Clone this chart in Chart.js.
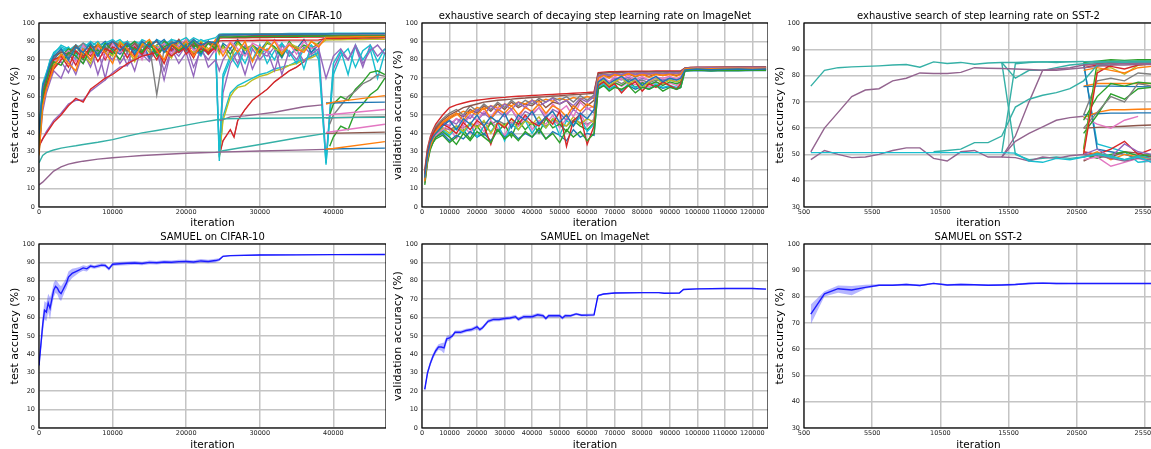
<!DOCTYPE html>
<html>
<head>
<meta charset="utf-8">
<script src="https://cdn.jsdelivr.net/npm/chart.js@4/dist/chart.umd.min.js"></script>
<style>
  body { margin: 0; width: 1151px; height: 449px; overflow: hidden; background: #fff; position: relative; }
  canvas { position: absolute; }
</style>
</head>
<body>
<canvas id="c1" width="386" height="230" style="left:0px;top:0px"></canvas>
<canvas id="c2" width="385" height="230" style="left:383px;top:0px"></canvas>
<canvas id="c3" width="388" height="230" style="left:765px;top:0px"></canvas>
<canvas id="c4" width="386" height="231" style="left:0px;top:221px"></canvas>
<canvas id="c5" width="385" height="231" style="left:383px;top:221px"></canvas>
<canvas id="c6" width="388" height="231" style="left:765px;top:221px"></canvas>
<script>
// ---------- data: CIFAR-10 exhaustive search ----------
const CIFAR_TICKS = [0, 10000, 20000, 30000, 40000];
const CIFAR_X = [0,500,1000,1500,2000,3000,4000,5000,6000,7000,8000,9000,10000,11000,12000,13000,14000,15000,16000,17000,18000,19000,20000,21000,22000,23000,24000,24500,25000,26000,27000,28000,29000,30000,31000,32000,33000,34000,35000,36000,37000,38000,39000,40000,41000,42000,43000,44000,45000,46000,47000];
// noisy runs, one value per CIFAR_X entry
const cifarNoisy = [
  [40,66,71,78,82,86,80,87,84,89,82,88,90,85,89,83,90,87,91,84,89,90,86,91,88,90,89,93.4,93.5,93.6,93.6,93.7,93.7,93.8,93.8,93.8,93.9,93.9,93.9,94,94,94,94,94.1,94.1,94.1,94.1,94.2,94.2,94.2,94.2],
  [28,55,64,70,76,83,78,74,86,80,88,84,78,89,86,81,88,91,85,80,89,86,90,82,88,85,91,86,82,89,84,90,79,87,85,90,83,88,86,84,90,87,92.2,92.3,92.4,92.4,92.5,92.5,92.6,92.6,92.6],
  [32,60,68,75,79,77,84,82,78,86,83,89,85,80,88,86,84,90,82,87,89,85,88,90,84,89,86,92.3,92.4,92.4,92.5,92.5,92.6,92.6,92.6,92.7,92.7,92.7,92.8,92.8,92.8,92.8,92.9,92.9,92.9,92.9,93,93,93,93,93],
  [35,58,66,72,80,82,76,85,81,87,79,86,84,88,81,87,83,89,86,78,88,84,87,81,89,83,87,90.3,90.4,90.4,90.5,90.5,90.5,90.6,90.6,90.6,90.6,90.7,90.7,90.7,90.7,90.8,91.5,91.6,91.6,91.7,91.7,91.8,91.8,91.8,91.9],
  [33,37,40,43,46,50,55,59,57,64,67,70,72,75,78,80,82,83,84,86,82,85,87,83,86,84,87],
  [38,62,70,76,82,84,83,88,82,86,88,84,90,87,85,89,84,88,90,86,87,91,85,89,87,90,88,92.8,92.9,93,93,93,93.1,93.1,93.1,93.2,93.2,93.2,93.2,93.3,93.3,93.3,93.3,93.3,93.4,93.4,93.4,93.4,93.4,93.4,93.4],
  [33,60,69,74,79,81,85,79,88,83,87,81,89,84,86,88,80,90,86,89,83,88,91,85,87,89,84,88,84,90,86,82,89,87,84,91,85,89,83,90,86,88,93,93.1,93.1,93.2,93.2,93.2,93.3,93.3,93.3],
  [36,63,70,77,81,85,82,86,89,84,88,86,90,88,84,89,87,88,61,86,90,87,88,91,86,89,90,93.7,93.8,93.8,93.9,93.9,93.9,94,94,94,94,94,94.1,94.1,94.1,94.1,94.1,94.2,94.2,94.2,94.2,94.3,94.3,94.3,94.3],
  [31,57,67,73,78,83,80,87,83,78,89,85,82,90,86,79,89,84,88,85,81,90,87,84,90,86,88,83,87,80,89,85,88,82,90,86,84,89,87,85,90,88,90.8,90.9,90.9,91,91,91,91.1,91.1,91.1],
  [29,58,65,73,77,82,86,84,80,88,85,87,83,89,87,90,85,88,84,90,88,86,91,87,89,84,90,85,88,83,90,86,88,84,89,87,82,90,85,88,86,89,91.8,91.9,92,92,92.1,92.1,92.1,92.2,92.2],
  [42,67,73,79,84,87,85,88,86,90,87,89,91,88,90,86,91,89,90,88,91,90,89,92,90,91,92,93.9,94,94,94.1,94.1,94.1,94.2,94.2,94.2,94.2,94.3,94.3,94.3,94.3,94.3,94.3,94.4,94.4,94.4,94.4,94.4,94.4,94.4,94.4],
  [31,59,67,71,75,80,84,77,86,82,89,80,87,85,90,82,88,86,80,89,85,91,83,88,86,90,85,91.8,91.9,92,92,92,92.1,92.1,92.1,92.2,92.2,92.2,92.2,92.3,92.3,92.3,92.3,92.3,92.4,92.4,92.4,92.4,92.4,92.4,92.4],
  [36,61,70,76,80,85,81,88,84,80,87,90,86,83,89,85,90,81,88,91,86,84,89,87,83,90,88,84,89,86,91,83,88,85,90,87,81,89,86,91,84,89,92.7,92.8,92.8,92.9,92.9,93,93,93,93],
  [33,37,41,44,47,51,56,58,58,63,66,69,73,76,77,81,83,82,85,85,83,86,86,84,87,85,88],
  [37,63,72,80,83,88,86,83,89,87,90,85,89,91,87,90,88,86,91,89,87,90,92,88,91,89,90,93.6,93.7,93.7,93.8,93.8,93.8,93.9,93.9,93.9,93.9,94,94,94,94,94,94,94.1,94.1,94.1,94.1,94.1,94.1,94.1,94.1],
  [30,52,62,68,74,70,80,72,84,76,86,70,87,78,84,74,88,80,85,69,86,78,84,71,88,76,80,74,80,86,78,88,75,84,82,87,72,85,80,87,83,86,70,82,86,80,88,78,85,88,83],
  [39,65,71,77,81,84,87,82,85,89,84,87,83,90,88,84,89,86,83,90,87,89,84,90,87,83,89,28,70,80,85,78,88,83,86,80,89,84,78,86,88,80,24,72,82,86,76,85,88,79,86],
  [40,64,69,76,80,86,84,80,88,85,82,89,86,90,84,88,82,89,87,85,91,84,89,86,82,90,87,25,72,82,76,86,80,88,78,85,89,82,87,75,88,84,23,78,85,72,88,80,86,70,84],
  [34,56,65,70,76,79,73,82,78,86,72,84,80,86,77,88,83,79,87,74,86,82,88,76,85,80,86,30,62,78,84,72,86,80,85,74,88,82,86,79,84,88,26,75,84,80,87,76,88,82,86]
];
// slow runs with their own iteration points
const cifarTealX = [0,500,1000,1500,2000,3000,4000,5000,6000,8000,10000,12000,14000,16000,18000,20000,22000,24000,24500,25000,30000,35000,39000,40000,47000];
const cifarTealY = [24,28,29.5,30.3,31,32,32.7,33.3,34,35.2,36.6,38.5,40.3,41.6,43,44.5,46,47.3,47.6,48,48.2,48.4,48.5,48.6,48.8];
const cifarLowX = [0,500,1000,1500,2000,3000,4000,5000,6000,8000,10000,12000,14000,16000,18000,20000,22000,24000,24500,30000,35000,39000];
const cifarLowY = [12,13.5,15.5,17.5,19.5,21.8,23.3,24.2,24.9,26,26.8,27.4,28,28.4,28.8,29.2,29.5,29.7,29.8,30.4,30.9,31.3];
const cifarRestartX = [24500,25000,26000,26500,27000,28000,29000,30000,31000,32000,33000,34000,35000,36000,37000,38000];
const cifarRestartA = [27,49,62,64,66,68,70,72,73,75,76,77,79,80,82,84];
const cifarRestartB = [28,36,42,38,47,53,58,61,64,68,71,74,76,79,82,84];
const cifarRestartC = [27,47,60,63,65,66,69,71,72,74,75,77,78,80,81,83];
const cifarMidX = [24500,25000,26000,28000,30000,32000,34000,36000,38500];
const cifarMidY = [47,47.5,49,49.5,50.5,51.5,53,54.5,55.5];
const cifarRiseX = [24500,25000,30000,35000,39000];
const cifarRiseY = [30,30.6,34,37.5,40];
const cifarLateX = [39500,40000,41000,42000,43000,44000,45000,46000,47000];
const cifarLateGreenA = [33,38,44,42,52,56,61,64,70];
const cifarLateGreenB = [50,56,60,58,64,68,73,74,72];
const cifarLateGray = [45,50,55,60,63,67,69,72,71];
const cifarFlatX = [39000,47000];
const cifarFlatRuns = [[56.5,57],[50,53],[48.5,49],[40.5,45],[40,40.7],[31.5,32]];
const cifarOrangeX = [39000,40000,47000];
const cifarOrangeHi = [56,57,60.5];
const cifarOrangeLo = [31.5,31.8,35.5];

// ---------- data: ImageNet exhaustive search ----------
const IMNET_TICKS = [0,10000,20000,30000,40000,50000,60000,70000,80000,90000,100000,110000,120000];
const IMNET_X = [1000,2000,3000,4000,5000,7500,10000,12500,15000,17500,20000,22500,25000,27500,30000,32500,35000,37500,40000,42500,45000,47500,50000,52500,55000,57500,60000,62500,64000,66000,68000,70000,72500,75000,77500,80000,82500,85000,87500,90000,92500,94000,95500,97500,100000,105000,110000,115000,120000,125000];
const imnetRuns = [
  [16,28,35,38,40,44,47,42,48,45,50,44,49,46,51,43,50,47,52,45,49,52,46,50,44,51,48,53, 68,70,67,69,71,68,70,66,69,71,68,70,69,70, 74.5,74.8,75,74.6,74.9,75,74.7,75],
  [14,26,33,37,41,46,49,51,47,52,50,54,48,53,51,55,50,54,52,56,51,55,53,49,55,52,56,54, 70,71.5,70,72,71,72.5,71,72,70.5,72,71.5,72,71,72, 75,75.3,75.4,75.2,75.5,75.4,75.5,75.5],
  [12,24,31,35,38,41,38,34,40,36,41,38,35,42,37,40,36,41,38,43,37,40,35,42,38,41,36,40, 64,66,63,65,64,66,62,65,64,66,63,65,64,65, 74,74.2,74.4,74,74.3,74.2,74.4,74.3],
  [18,30,36,40,42,45,43,40,46,42,47,44,34,46,43,48,45,50,46,44,49,45,52,33,47,50,34,44, 66,68,65,67,62,66,68,63,67,65,68,66,64,67, 74.2,74.5,74.6,74.4,74.7,74.5,74.6,74.7],
  [15,27,34,38,41,44,47,45,50,48,53,50,55,52,56,53,57,54,58,55,57,59,56,58,55,59,57,60, 71,72,71.5,72.5,72,73,72,72.8,72.3,73,72.5,73,72.7,73, 75.3,75.6,75.8,75.7,75.9,75.8,76,75.9],
  [17,29,35,39,43,47,50,52,54,55,56,57,57.5,58,58.3,58.6,59,59.2,59.5,59.8,60,60.3,60.5,60.8,61,61.2,61.5,61.8, 72.5,72.8,73,73.1,73.2,73.3,73.3,73.4,73.4,73.5,73.5,73.5,73.6,73.6, 75.6,75.8,75.9,76,76,76.1,76.1,76.1],
  [13,25,32,36,39,42,45,48,44,50,47,52,49,54,50,53,48,55,51,54,50,56,52,55,49,57,53,55, 69,70.5,68,71,69.5,71.5,69,71,68.5,70.5,70,71,69.5,71, 74.8,75,75.2,75,75.3,75.1,75.3,75.2],
  [19,31,37,41,44,48,51,53,50,55,52,56,53,57,54,58,55,58,56,59,57,59.5,58,60,57,60.5,58,61, 71.5,72.3,71.8,72.6,72.2,72.8,72.3,72.9,72.5,73,72.7,73.1,72.8,73.1, 75.4,75.7,75.8,75.6,75.9,75.8,75.9,76],
  [14,26,33,37,40,43,40,44,41,46,43,47,40,46,44,48,42,47,45,49,43,48,46,44,49,45,48,46, 67,69,66,68,70,67,69,65,68,70,67,69,68,69, 74.4,74.6,74.8,74.5,74.8,74.6,74.8,74.8],
  [16,28,34,37,40,42,39,43,40,45,38,44,41,46,36,45,42,47,40,46,43,48,39,47,44,49,41,45, 65,67,64,66,63,67,65,66,64,67,65,66,65,66, 74.1,74.3,74.5,74.2,74.5,74.3,74.5,74.4],
  [15,27,33,36,38,40,36,39,37,41,38,40,36,42,38,41,37,40,38,42,37,41,39,36,42,38,40,39, 64.5,66,64,65.5,63.5,66,64,65.5,64,66,64.5,65.5,64,65, 73.8,74,74.2,73.9,74.2,74,74.2,74.1],
  [17,29,35,39,42,46,48,50,52,51,54,53,55,54,56,55,57,56,58,57,58.5,57.5,59,58,59.5,58.5,60,59, 71,71.8,71.3,72,71.6,72.2,71.8,72.3,72,72.5,72.2,72.6,72.3,72.6, 75.2,75.5,75.6,75.5,75.7,75.6,75.7,75.7],
  [13,25,32,35,37,39,35,38,42,37,44,39,46,41,45,38,47,42,46,40,48,43,45,41,47,44,42,46, 66,68,65.5,67.5,66,68.5,65,67.5,66.5,68,66,68,67,68, 74.3,74.5,74.6,74.4,74.7,74.5,74.7,74.6],
  [20,32,38,42,45,50,54,55.5,56.5,57.5,58,58.5,59,59.3,59.6,60,60.2,60.4,60.6,60.8,61,61.2,61.4,61.6,61.8,62,62.2,62.5, 73,73.3,73.5,73.6,73.7,73.7,73.8,73.8,73.8,73.9,73.9,73.9,74,74, 75.5,75.8,76,76,76.1,76.1,76.2,76.2],
  [16,29,36,39,43,46,44,48,46,50,47,51,48,52,49,53,47,52,50,54,48,53,51,47,53,50,54,51, 69,70,68,70,69,70.5,68,70,69,70.5,69,70,69,70, 74.7,74.9,75.1,74.9,75.1,75,75.1,75.1],
  [14,27,34,38,42,45,48,51,49,53,51,55,52,56,53,57,54,56,55,58,54,57,56,58,53,58,55,58, 70.5,71.5,70.8,72,71.2,72.2,70.8,72,71,72.3,71.5,72.3,71.5,72.2, 75.1,75.4,75.5,75.3,75.6,75.5,75.6,75.6],
  [17,29,34,36,39,41,43,37,44,40,46,41,47,43,39,46,44,49,42,47,45,50,43,48,46,51,44,48, 66.5,68.5,66,68,65.5,68,66.5,68,65,68,66.5,67.5,66,67.5, 74.2,74.4,74.6,74.3,74.6,74.4,74.6,74.5],
  [18,30,36,40,41,43,42,44,43,45,44,46,45,47,45,46,44,47,45,46,44,47,45,44,47,46,45,47, 68,69,67.5,69,67,69.5,68,69,67.5,69,68.5,69,68,69, 74.6,74.8,75,74.8,75,74.9,75,75]
];

// ---------- data: SST-2 exhaustive search ----------
const SST_TICKS = [500, 5500, 10500, 15500, 20500, 25500];
const SST_X = [1000,2000,3000,4000,5000,6000,7000,8000,9000,10000,11000,12000,13000,14000,15000,16000,17000,18000,19000,20000,21000,22000,23000,24000,25000,26000];
const sstTop = [76,82,83,83.3,83.5,83.7,84,84.2,83.2,85.2,84.6,85,84.3,84.8,85,85,85.2,85.2,85.3,85.2,85.3,85.4,85.4,85.5,85.5,85.5];
const sstClimb = [51,60,66,72,74.5,75,78,79,81,80.8,80.8,81.2,83,82.8,82.7,82.5,82.3,82,82.5,83,84,84.3,84.5,84.5,84.6,84.6];
const sstFlat = [50.7,50.7,50.7,50.7,50.7,50.7,50.7,50.7,50.7,50.7,50.7,50.7,50.7,50.7,50.7,50.5,47.5,47,48.5,48,49,50,49,48,49,47];
const sstLow = [48,51.5,50,48.8,49,50,51.5,52.5,52.5,48.5,47.5,51,51.5,49,49,48.8,47.5,49,48.5,49.5,50,49.5,48.5,47.5,48.5,48];
const sstTealRise = [null,null,null,null,null,null,null,null,null,51,51.5,52,54.5,54.5,57,68,71,72.5,73.5,75,78,84,84.5,85,85,85];
const sstPurpleSteep = [null,null,null,null,null,null,null,null,null,null,null,null,null,null,49,57,70,82,82,82.5,83,83.5,84,84,84.2,84.2];
const sstPurpleSlow = [null,null,null,null,null,null,null,null,null,null,null,null,null,null,49,55,58,60.5,63,64,64.5];
const sstTealDrop = [null,null,null,null,null,null,null,null,null,null,null,null,null,null,85,50,48,48.5,49,48.5,49,50.5,49.5,48,49.5,48.5];
const sstTealDip = [null,null,null,null,null,null,null,null,null,null,null,null,null,null,85,79,82,82,83,84,84.5,85,85.2,85,85.3,85.3];
const sstTealJump = [null,null,null,null,null,null,null,null,null,null,null,null,null,null,50.5,84.5,85,85.2,85,85.3,85.4];
const SST_TAIL_X = [21000,22000,23000,24000,25000,26000];
const sstTailRuns = [
  [84,84.5,85,84.8,85,85],
  [83,84,83.5,82.5,84,84.5],
  [85,85.5,86,85.8,86,86],
  [82,83,82,81,83,83.5],
  [50,81,84,85,84.5,85],
  [51,82,83,80.5,84,84.5],
  [52,85,85.5,85,85.5,85.5],
  [60,66,72,70,77,76],
  [65,78,79,78,81,80.5],
  [58,65,73,71,75,75.5],
  [63,72,77,76,77.5,77],
  [64,66,67,67,67.2,67.3],
  [65,65.5,65.7,65.7,65.8,65.8],
  [75.8,76,76,75.9,75.8,75.7],
  [76,77,77,77,77,77],
  [64,61.5,60,63,64.5,null],
  [60,60.3,60.5,60.7,61,61.2],
  [50,52,49,54,51,50],
  [49,51,48,50,49,48.5],
  [48,49,45.5,47,48.5,47],
  [51,50,52,55,50,52],
  [50,48.5,50,51,49.5,50],
  [47.5,50,49,51,50.5,49],
  [85,52,51,50,48.5,49.5],
  [84.5,54,52.5,51,47,47.5]
];

// ---------- data: SAMUEL ----------
const samCifarX = [0,250,500,750,1000,1250,1500,1750,2000,2250,2500,2750,3000,3250,3500,3750,4000,4500,5000,5500,6000,6500,7000,7500,8000,8500,9000,9500,10000,11000,12000,13000,14000,15000,16000,17000,18000,19000,20000,21000,22000,23000,24000,24500,25000,26000,30000,35000,40000,47000];
const samCifarMean = [34,45,56,64,63,68,65,70,75,77,76,74,73,75,77,79,82,84,85,86,87,86.5,88,87.5,88,88.5,88.3,86.5,89,89.3,89.5,89.7,89.4,90,89.8,90.2,90.1,90.4,90.5,90.2,90.8,90.5,91,91.5,93.3,93.7,94,94.1,94.2,94.3];
const samCifarLow = [33,42,51,59,58,63,59,66,71,73.5,72.5,70,69,71.5,74,76,79,81.5,83,84.5,85.5,85,87,86.5,87,87.5,87.3,85.5,88,88.3,88.5,88.7,88.4,89,88.8,89.2,89.1,89.4,89.5,89.2,89.8,89.5,90,90.7,92.8,93.4,93.8,93.9,94,94.1];
const samCifarHigh = [35,48,61,69,68,73,71,74,79,80.5,79.5,78,77,78.5,80,82,85,86.5,87,87.5,88.5,88,89,88.5,89,89.5,89.3,87.5,90,90.3,90.5,90.7,90.4,91,90.8,91.2,91.1,91.4,91.5,91.2,91.8,91.5,92,92.3,93.8,94,94.2,94.3,94.4,94.5];

const samImnetX = [1000,2000,3000,4000,5000,6000,7000,8000,9000,10000,11000,12000,14000,16000,18000,20000,21000,22000,24000,26000,28000,30000,32000,34000,35000,37000,40000,42000,44000,45000,46000,48000,50000,51000,52000,54000,56000,58000,62500,63800,64000,66000,70000,80000,86000,88000,93500,95000,100000,110000,120000,125000];
const samImnetMean = [21,30,35,39,42,44,44,43.5,48.5,49,50,52,52,53,53.5,55,53.5,54.5,58,59,59,59.5,59.8,60.5,59,60.5,60.5,61.5,61,59.5,61,61,61,59.8,61,61,62,61.3,61.5,71,72,72.8,73.4,73.6,73.6,73.2,73.3,75.3,75.6,75.8,75.8,75.5];
const samImnetLow = [19.5,28.5,33.5,37.5,40.5,42.5,42,40.5,47,47.5,49,51,51,52,52.5,53.5,52.5,53.5,57,58,58,58.5,58.8,59.5,58,59.5,59.5,60.5,60,58.5,60,60,60,58.8,60,60.3,61.3,60.6,60.8,70.5,71.6,72.4,73.1,73.3,73.3,72.9,73,75,75.3,75.5,75.5,75.2];
const samImnetHigh = [22.5,31.5,36.5,40.5,43.5,45.5,46,46.5,50,50.5,51,53,53,54,54.5,56,54.5,55.5,59,60,60,60.5,60.8,61.5,60,61.5,61.5,62.5,62,60.5,62,62,62,60.8,62,61.7,62.7,62,62.2,71.5,72.4,73.2,73.7,73.9,73.9,73.5,73.6,75.6,75.9,76.1,76.1,75.8];

const samSstMean = [73.3,81,83,82.5,83.5,84.3,84.3,84.6,84.2,85,84.4,84.6,84.5,84.3,84.4,84.6,85,85.1,85,85,85,85,85,85,85,85];
const samSstLow = [69.5,80,81.5,80.5,83,84,84,84.2,83.9,84.7,84.1,84.3,84.2,84,84.1,84.3,84.7,84.8,84.7,84.8,84.8,84.8,84.8,84.8,84.8,84.8];
const samSstHigh = [77,82,84.2,84,84.5,84.7,84.7,85,84.6,85.3,84.8,85,84.8,84.7,84.8,85,85.4,85.5,85.3,85.2,85.2,85.2,85.2,85.2,85.2,85.2];

// ---------- styling + helpers ----------
const FONT = '"DejaVu Sans", sans-serif';
const TAB10 = ['#1f77b4','#ff7f0e','#2ca02c','#d62728','#9467bd','#8c564b','#e377c2','#7f7f7f','#bcbd22','#17becf'];
const TEAL = '#35b0a6';
const MAUVE = '#93648f';
const GRID = '#c4c4c4';
const RUN_W = 1.4;

function toPoints(xs, ys) {
  const out = [];
  ys.forEach((y, i) => {
    if (y != null && xs[i] != null) out.push({ x: xs[i], y });
  });
  return out;
}

function run(xs, ys, color, width) {
  return {
    data: toPoints(xs, ys),
    borderColor: color,
    borderWidth: width || RUN_W,
    pointRadius: 0,
    fill: false,
    tension: 0
  };
}

// shaded band + mean line, like fill_between
function bandWithLine(xs, lo, hi, mean) {
  return [
    { data: toPoints(xs, lo), borderWidth: 0, pointRadius: 0, fill: false },
    { data: toPoints(xs, hi), borderWidth: 0, pointRadius: 0, fill: '-1', backgroundColor: 'rgba(70,70,255,0.4)' },
    run(xs, mean, '#0000ff', 1.4)
  ];
}

// black box round the plot area
const frame = {
  id: 'frame',
  afterDatasetsDraw(chart) {
    const { ctx, chartArea: a } = chart;
    ctx.save();
    ctx.strokeStyle = '#000';
    ctx.lineWidth = 1.2;
    ctx.strokeRect(a.left, a.top, a.right - a.left, a.bottom - a.top);
    ctx.restore();
  }
};

function makePanel(id, p) {
  new Chart(document.getElementById(id), {
    type: 'line',
    data: { datasets: p.datasets },
    plugins: [frame],
    options: {
      responsive: false,
      animation: false,
      events: [],
      layout: { padding: 0 },
      plugins: {
        legend: { display: false },
        tooltip: { enabled: false },
        title: {
          display: true,
          text: p.title,
          fullSize: false,
          color: '#000',
          font: { family: FONT, size: 10, weight: 'normal', lineHeight: 1.2 },
          padding: { top: 10, bottom: 1 }
        }
      },
      scales: {
        x: {
          type: 'linear',
          min: p.xmin,
          max: p.xmax,
          border: { display: false },
          grid: { color: GRID, lineWidth: 1.5, drawTicks: false },
          ticks: { font: { family: FONT, size: 6.5 }, color: '#222', padding: 1, maxRotation: 0, autoSkip: false, callback: v => String(v) },
          title: { display: true, text: 'iteration', color: '#000', font: { family: FONT, size: 10.5, lineHeight: 1.2 }, padding: { top: 0, bottom: 0 } },
          afterBuildTicks: s => { s.ticks = p.xticks.map(v => ({ value: v })); },
          afterFit: s => { s.height = p.xh; s.paddingLeft = 0; s.paddingRight = 0; }
        },
        y: {
          min: p.ymin,
          max: 100,
          border: { display: false },
          grid: { color: GRID, lineWidth: 1.5, drawTicks: false },
          ticks: { stepSize: 10, font: { family: FONT, size: 6.5 }, color: '#222', padding: 4, callback: v => String(v) },
          title: { display: true, text: p.ylabel, color: '#000', font: { family: FONT, size: 11, lineHeight: 1.2 }, padding: { top: 8.4, bottom: 0 } },
          afterFit: s => { s.width = 39; s.paddingTop = 0; s.paddingBottom = 0; }
        }
      }
    }
  });
}

// ---------- panel 1 ----------
const cifarSets = [
  run(cifarLowX, cifarLowY, MAUVE),
  run(cifarTealX, cifarTealY, TEAL),
  run(cifarRiseX, cifarRiseY, TEAL),
  run(cifarMidX, cifarMidY, MAUVE),
  run(cifarOrangeX, cifarOrangeLo, TAB10[1]),
  run(cifarOrangeX, cifarOrangeHi, TAB10[1])
];
const flatColors = [TAB10[0], TAB10[6], TAB10[5], TAB10[6], TAB10[5], TAB10[0]];
cifarFlatRuns.forEach((ys, i) => cifarSets.push(run(cifarFlatX, ys, flatColors[i])));
cifarSets.push(run(cifarLateX, cifarLateGray, TAB10[7]));
cifarSets.push(run(cifarLateX, cifarLateGreenB, TAB10[2]));
cifarSets.push(run(cifarLateX, cifarLateGreenA, TAB10[2]));
const noisyColors = [TAB10[0], TAB10[1], TAB10[2], TAB10[3], TAB10[3], TAB10[5], TAB10[6], TAB10[7], TAB10[8], TAB10[2], TAB10[9], TAB10[3], TAB10[0], TAB10[4], TAB10[9], TAB10[4], TAB10[9], TAB10[9], TAB10[4]];
cifarNoisy.forEach((ys, i) => cifarSets.push(run(CIFAR_X, ys, noisyColors[i])));
cifarSets.push(run(cifarRestartX, cifarRestartC, TAB10[8]));
cifarSets.push(run(cifarRestartX, cifarRestartA, TAB10[9]));
cifarSets.push(run(cifarRestartX, cifarRestartB, TAB10[3]));
cifarSets.push(run(cifarRestartX, cifarRestartB, MAUVE, 1));

makePanel('c1', {
  title: 'exhaustive search of step learning rate on CIFAR-10',
  ylabel: 'test accuracy (%)',
  xmin: 0, xmax: 47150, ymin: 0, xticks: CIFAR_TICKS, xh: 23,
  datasets: cifarSets
});

// ---------- panel 2 ----------
makePanel('c2', {
  title: 'exhaustive search of decaying step learning rate on ImageNet',
  ylabel: 'validation accuracy (%)',
  xmin: 0, xmax: 125700, ymin: 0, xticks: IMNET_TICKS, xh: 23,
  datasets: imnetRuns.map((ys, i) => run(IMNET_X, ys, TAB10[i % 10]))
});

// ---------- panel 3 ----------
const sstSets = [
  run(SST_X, sstFlat, TAB10[9]),
  run(SST_X, sstLow, MAUVE),
  run(SST_X, sstTop, TEAL),
  run(SST_X, sstClimb, MAUVE),
  run(SST_X, sstTealRise, TEAL),
  run(SST_X, sstPurpleSlow, MAUVE),
  run(SST_X, sstPurpleSteep, MAUVE),
  run(SST_X, sstTealDrop, TEAL),
  run(SST_X, sstTealDip, TEAL),
  run(SST_X, sstTealJump, TEAL)
];
const tailColors = [TAB10[5], TAB10[3], TAB10[2], TAB10[1], TAB10[3], TAB10[8], TAB10[2], TAB10[7], TAB10[7], TAB10[2], TAB10[2], TAB10[1], TAB10[0], TAB10[0], TAB10[1], TAB10[6], TAB10[5], TAB10[4], TAB10[1], TAB10[6], TAB10[3], TAB10[2], TAB10[5], TAB10[0], TAB10[9]];
sstTailRuns.forEach((ys, i) => sstSets.push(run(SST_TAIL_X, ys, tailColors[i])));

makePanel('c3', {
  title: 'exhaustive search of step learning rate on SST-2',
  ylabel: 'test accuracy (%)',
  xmin: 500, xmax: 26090, ymin: 30, xticks: SST_TICKS, xh: 23,
  datasets: sstSets
});

// ---------- bottom row ----------
makePanel('c4', {
  title: 'SAMUEL on CIFAR-10',
  ylabel: 'test accuracy (%)',
  xmin: 0, xmax: 47150, ymin: 0, xticks: CIFAR_TICKS, xh: 24,
  datasets: bandWithLine(samCifarX, samCifarLow, samCifarHigh, samCifarMean)
});

makePanel('c5', {
  title: 'SAMUEL on ImageNet',
  ylabel: 'validation accuracy (%)',
  xmin: 0, xmax: 125700, ymin: 0, xticks: IMNET_TICKS, xh: 24,
  datasets: bandWithLine(samImnetX, samImnetLow, samImnetHigh, samImnetMean)
});

makePanel('c6', {
  title: 'SAMUEL on SST-2',
  ylabel: 'test accuracy (%)',
  xmin: 500, xmax: 26090, ymin: 30, xticks: SST_TICKS, xh: 24,
  datasets: bandWithLine(SST_X, samSstLow, samSstHigh, samSstMean)
});
</script>
</body>
</html>
